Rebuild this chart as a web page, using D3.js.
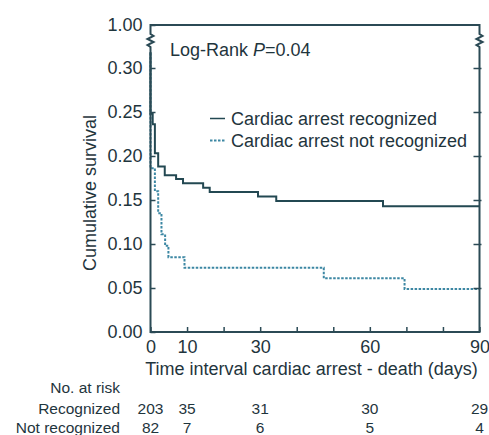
<!DOCTYPE html>
<html>
<head>
<meta charset="utf-8">
<script src="https://cdn.jsdelivr.net/npm/d3@7"></script>
<style>
  body { margin: 0; background: #fff; }
  svg { display: block; font-family: "Liberation Sans", Arial, sans-serif; }
</style>
</head>
<body>
<div id="chart"></div>
<script>
// Kaplan-Meier steps: [day, survival after the step]
const recognized = [
  [0, 1.0], [0, 0.248], [0.6, 0.236], [1.2, 0.203], [2.1, 0.188], [3.9, 0.178],
  [7.0, 0.174], [8.9, 0.169], [14.4, 0.164], [16.2, 0.159], [29.4, 0.154],
  [34.4, 0.149], [63.6, 0.143], [90, 0.143]
];
const notRecognized = [
  [0, 1.0], [0, 0.186], [1.2, 0.160], [2.1, 0.135], [3.0, 0.111], [4.0, 0.098],
  [4.9, 0.085], [9.3, 0.073], [47.4, 0.061], [69.5, 0.049], [90, 0.049]
];

const xTicks = [0, 10, 20, 30, 40, 50, 60, 70, 80, 90];
const xLabelled = [0, 10, 30, 60, 90];
const yTicks = [0, 0.05, 0.10, 0.15, 0.20, 0.25, 0.30, 1.00];

const riskTimes = [0, 10, 30, 60, 90];
const riskRecognized = [203, 35, 31, 30, 29];
const riskNotRecognized = [82, 7, 6, 5, 4];

const legendLabels = ['Cardiac arrest recognized', 'Cardiac arrest not recognized'];

const W = 489, H = 435;
const axisColor = '#2b4a55';
const textColor = '#1f353d';
const solidColor = '#234852';
const dotColor = '#3c87a3';

const svg = d3.select('#chart').append('svg')
  .attr('width', W).attr('height', H);
svg.append('rect').attr('width', W).attr('height', H).attr('fill', '#fff');

const x = d3.scaleLinear().domain([0, 90]).range([150.5, 479.5]);
// broken axis: 0-0.30 linear, then jump to 1.00
const y = d3.scaleLinear().domain([0, 0.30, 1.00]).range([332, 68, 25]);

const x0 = x(0), x1 = x(90), yTop = y(1), yBot = y(0);

// clip curves below the axis break
svg.append('defs').append('clipPath').attr('id', 'plotClip')
  .append('rect')
  .attr('x', x0 - 2).attr('y', 52)
  .attr('width', x1 - x0 + 4).attr('height', yBot - 52 + 2);

const line = d3.line()
  .x(d => x(d[0]))
  .y(d => y(d[1]))
  .curve(d3.curveStepAfter);

svg.append('path')
  .datum(notRecognized)
  .attr('clip-path', 'url(#plotClip)')
  .attr('fill', 'none')
  .attr('stroke', dotColor)
  .attr('stroke-width', 2)
  .attr('stroke-dasharray', '2.5,1.5')
  .attr('d', line);

svg.append('path')
  .datum(recognized)
  .attr('clip-path', 'url(#plotClip)')
  .attr('fill', 'none')
  .attr('stroke', solidColor)
  .attr('stroke-width', 2)
  .attr('d', line);

// frame with the zigzag break on both sides
const frame = d3.path();
frame.moveTo(x0, yBot);
frame.lineTo(x0, 47);
[[-3, 45], [3, 42], [-3, 39], [3, 36], [0, 34]].forEach(p => frame.lineTo(x0 + p[0], p[1]));
frame.lineTo(x0, yTop);
frame.lineTo(x1, yTop);
frame.lineTo(x1, 34);
[[3, 36], [-3, 39], [3, 42], [-3, 45], [0, 47]].forEach(p => frame.lineTo(x1 + p[0], p[1]));
frame.lineTo(x1, yBot);
frame.closePath();

svg.append('path')
  .attr('fill', 'none')
  .attr('stroke', axisColor)
  .attr('stroke-width', 2)
  .attr('d', frame.toString());

// left axis ticks and labels
const yAxis = svg.append('g')
  .attr('transform', `translate(${x0},0)`)
  .call(d3.axisLeft(y).tickValues(yTicks).tickSize(-5).tickPadding(8)
    .tickFormat(d3.format('.2f')));
yAxis.select('.domain').remove();
yAxis.selectAll('line').attr('stroke', axisColor).attr('stroke-width', 1.5);
yAxis.selectAll('text').attr('fill', textColor).style('font-size', '18px')
  .style('font-family', '"Liberation Sans", Arial, sans-serif');

// right axis ticks
const yAxisR = svg.append('g')
  .attr('transform', `translate(${x1},0)`)
  .call(d3.axisRight(y).tickValues(yTicks.filter(d => d > 0 && d < 1)).tickSize(-6).tickFormat(''));
yAxisR.select('.domain').remove();
yAxisR.selectAll('line').attr('stroke', axisColor).attr('stroke-width', 1.5).attr('x1', 2).attr('x2', -6);

// bottom axis
const xAxis = svg.append('g')
  .attr('transform', `translate(0,${yBot})`)
  .call(d3.axisBottom(x).tickValues(xTicks).tickSize(-5).tickPadding(8)
    .tickFormat(d => xLabelled.includes(d) ? d : ''));
xAxis.select('.domain').remove();
xAxis.selectAll('line').attr('stroke', axisColor).attr('stroke-width', 1.5);
xAxis.selectAll('text').attr('fill', textColor).style('font-size', '18px')
  .style('font-family', '"Liberation Sans", Arial, sans-serif');

// axis titles
svg.append('text')
  .attr('x', (143 + 480) / 2).attr('y', 375)
  .attr('text-anchor', 'middle').attr('fill', textColor).style('font-size', '18px')
  .text('Time interval cardiac arrest - death (days)');

svg.append('text')
  .attr('transform', 'translate(96,193) rotate(-90)')
  .attr('text-anchor', 'middle').attr('fill', textColor).style('font-size', '18px')
  .text('Cumulative survival');

// log-rank annotation
const lr = svg.append('text').attr('x', 170).attr('y', 56)
  .attr('fill', textColor).style('font-size', '18px');
lr.append('tspan').text('Log-Rank ');
lr.append('tspan').style('font-style', 'italic').text('P');
lr.append('tspan').text('=0.04');

// legend
const legend = svg.append('g');
legendLabels.forEach((lab, i) => {
  const ly = 118.5 + i * 22;
  legend.append('line')
    .attr('x1', 210).attr('x2', 225).attr('y1', ly).attr('y2', ly)
    .attr('stroke', i === 0 ? solidColor : dotColor)
    .attr('stroke-width', i === 0 ? 1.5 : 2)
    .attr('stroke-dasharray', i === 0 ? null : '2.5,1.5');
  legend.append('text')
    .attr('x', 231).attr('y', ly + 6.5)
    .attr('fill', textColor).style('font-size', '18px')
    .text(lab);
});

// number at risk table
const risk = svg.append('g').style('font-size', '15.5px').attr('fill', textColor);
risk.append('text').attr('x', 120).attr('y', 392.5).attr('text-anchor', 'end').text('No. at risk');
risk.append('text').attr('x', 120).attr('y', 413.5).attr('text-anchor', 'end').text('Recognized');
risk.append('text').attr('x', 120).attr('y', 432.5).attr('text-anchor', 'end').text('Not recognized');
risk.selectAll('text.r1').data(riskTimes).enter().append('text')
  .attr('class', 'r1')
  .attr('x', d => x(d)).attr('y', 413.5).attr('text-anchor', 'middle')
  .text((d, i) => riskRecognized[i]);
risk.selectAll('text.r2').data(riskTimes).enter().append('text')
  .attr('class', 'r2')
  .attr('x', d => x(d)).attr('y', 432.5).attr('text-anchor', 'middle')
  .text((d, i) => riskNotRecognized[i]);
</script>
</body>
</html>
